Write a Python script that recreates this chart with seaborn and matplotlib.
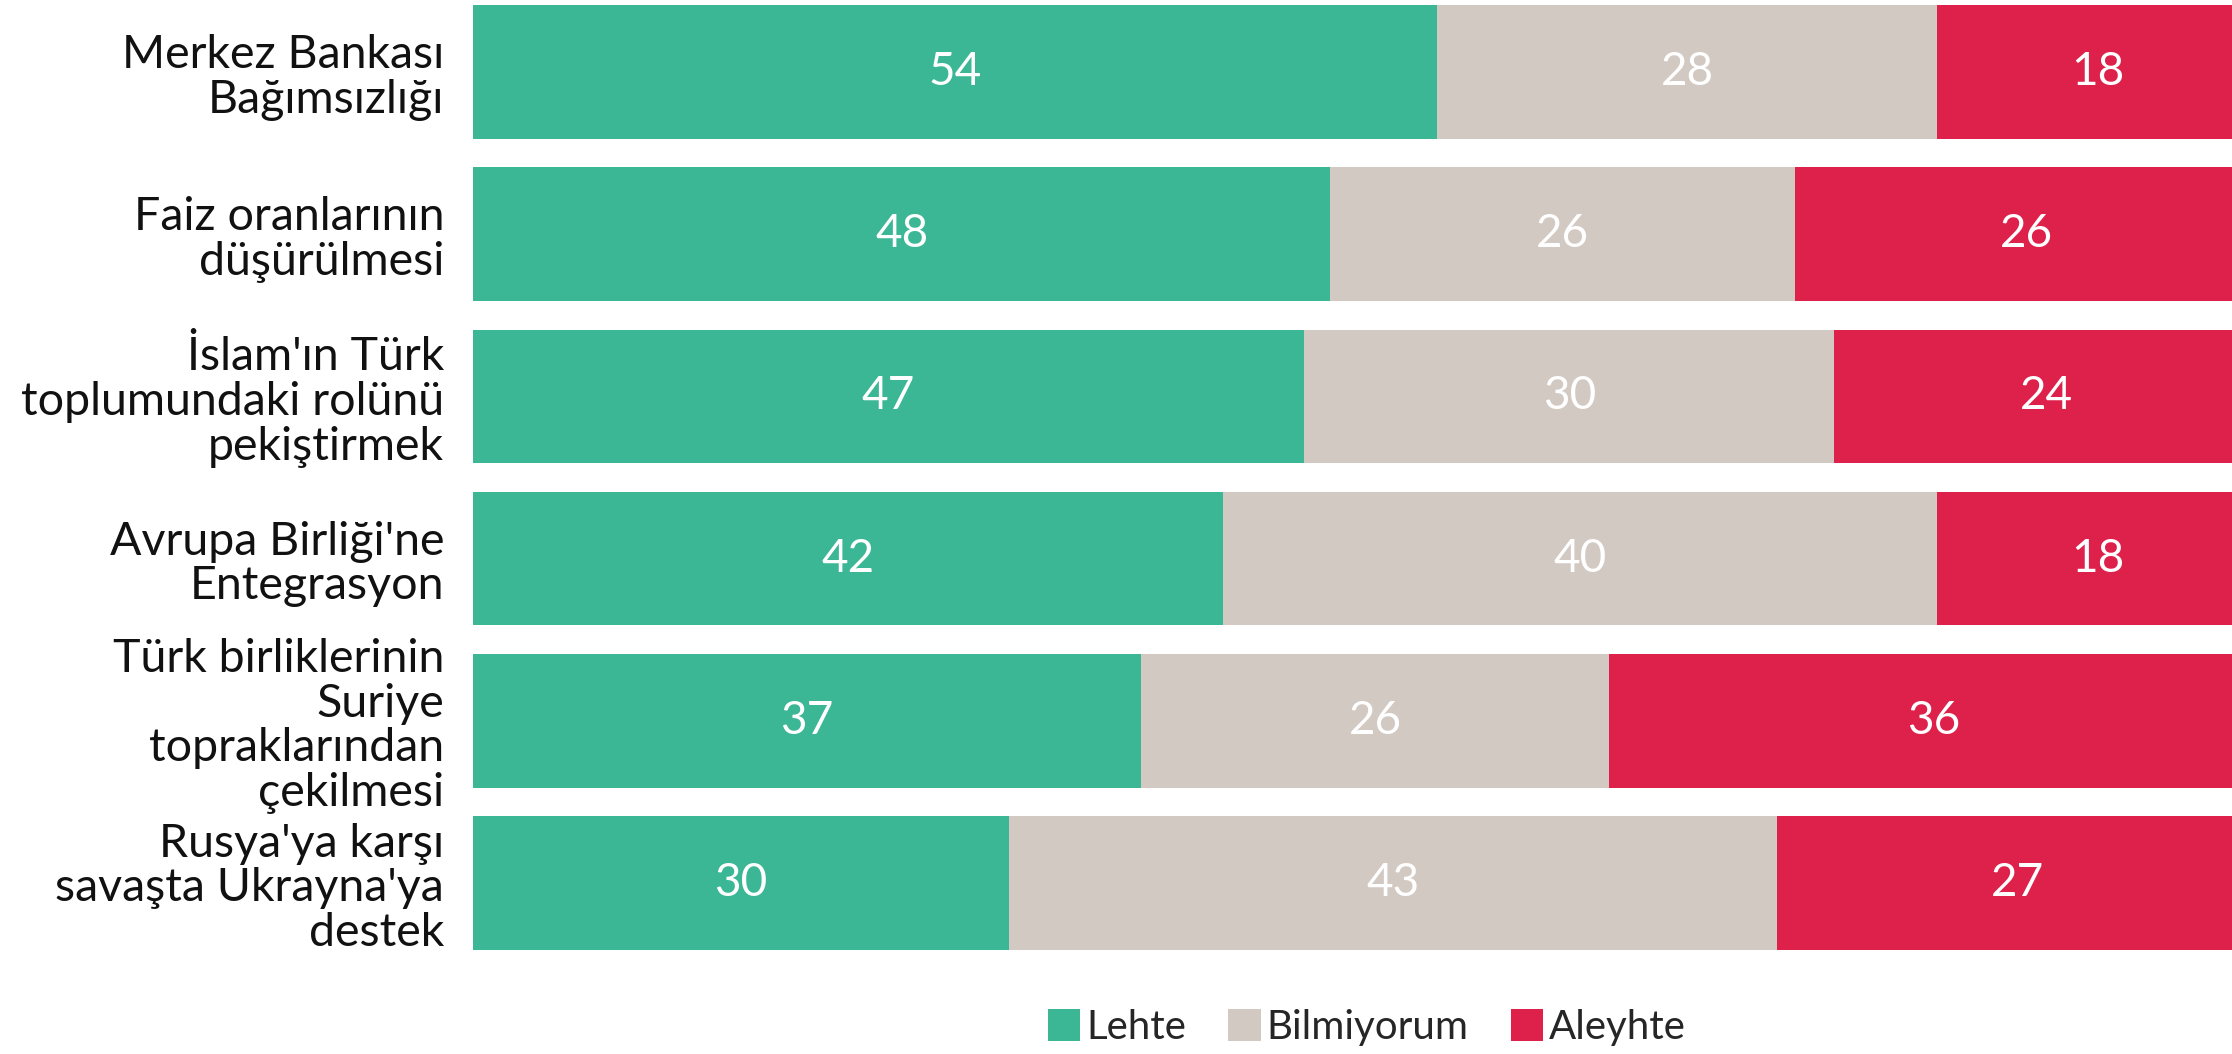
import numpy as np
import pandas as pd
import matplotlib
matplotlib.use("Agg")
import matplotlib.pyplot as plt
from matplotlib.patches import Patch
import seaborn as sns

# ----------- DATA ------------

topics = [
    "Merkez Bankası\nBağımsızlığı",
    "Faiz oranlarının\ndüşürülmesi",
    "İslam'ın Türk\ntoplumundaki rolünü\npekiştirmek",
    "Avrupa Birliği'ne\nEntegrasyon",
    "Türk birliklerinin\nSuriye\ntopraklarından\nçekilmesi",
    "Rusya'ya karşı\nsavaşta Ukrayna'ya\ndestek",
]
lehte = [54, 48, 47, 42, 37, 30]
bilmiyorum = [28, 26, 30, 40, 26, 43]
aleyhte = [18, 26, 24, 18, 36, 27]

series_names = ["Lehte", "Bilmiyorum", "Aleyhte"]
colors = ["#3BB796", "#D3C9C3", "#DE214B"]

# ----------- PREP ------------

df = pd.DataFrame({"topic": topics, "Lehte": lehte,
                   "Bilmiyorum": bilmiyorum, "Aleyhte": aleyhte})
total = df[series_names].sum(axis=1)
# bars are stretched to the full width (row sums are 99..101)
for s in series_names:
    df[s + "_pct"] = df[s] / total * 100
df["cum1"] = df["Lehte_pct"]
df["cum2"] = df["cum1"] + df["Bilmiyorum_pct"]
df["cum3"] = df["cum2"] + df["Aleyhte_pct"]

# ----------- PLOT ------------

sns.set_theme(style="white")
plt.rcParams['font.family'] = ['Lato', 'DejaVu Sans']

fig = plt.figure(figsize=(22.32, 10.54), dpi=100)
ax = fig.add_axes([0.212, 0.0977, 0.788, 0.8985])

bar_w = 0.824
# stacked look: draw cumulative totals from largest to smallest
for col, c in zip(["cum3", "cum2", "cum1"], colors[::-1]):
    sns.barplot(data=df, x=col, y="topic", color=c, orient="h",
                width=bar_w, linewidth=0, saturation=1, ax=ax)

# value labels in the middle of each segment
starts = [np.zeros(len(df)), df["cum1"].values, df["cum2"].values]
for s, st in zip(series_names, starts):
    for i, (v, w) in enumerate(zip(df[s].values, df[s + "_pct"].values)):
        ax.text(st[i] + w / 2, i, str(v), ha="center", va="center",
                color="white", fontsize=33)

ax.set_xlim(0, 98.5)
ax.set_ylim(5.42, -0.42)
ax.set_xlabel("")
ax.set_ylabel("")
ax.set_xticks([])
ax.tick_params(axis="y", length=0, pad=21, labelsize=33.5, labelcolor="#111111")
for t in ax.get_yticklabels():
    t.set_linespacing(1.08)
    t.set_multialignment("right")
sns.despine(ax=ax, left=True, bottom=True, top=True, right=True)

handles = [Patch(facecolor=c, edgecolor="none", label=n)
           for n, c in zip(series_names, colors)]
fig.legend(handles=handles, loc="center", bbox_to_anchor=(0.6125, 0.025),
           ncol=3, frameon=False, fontsize=29, handlelength=0.8,
           handleheight=0.85, handletextpad=0.15, columnspacing=1.05)

fig.savefig("out.png", dpi=100)
